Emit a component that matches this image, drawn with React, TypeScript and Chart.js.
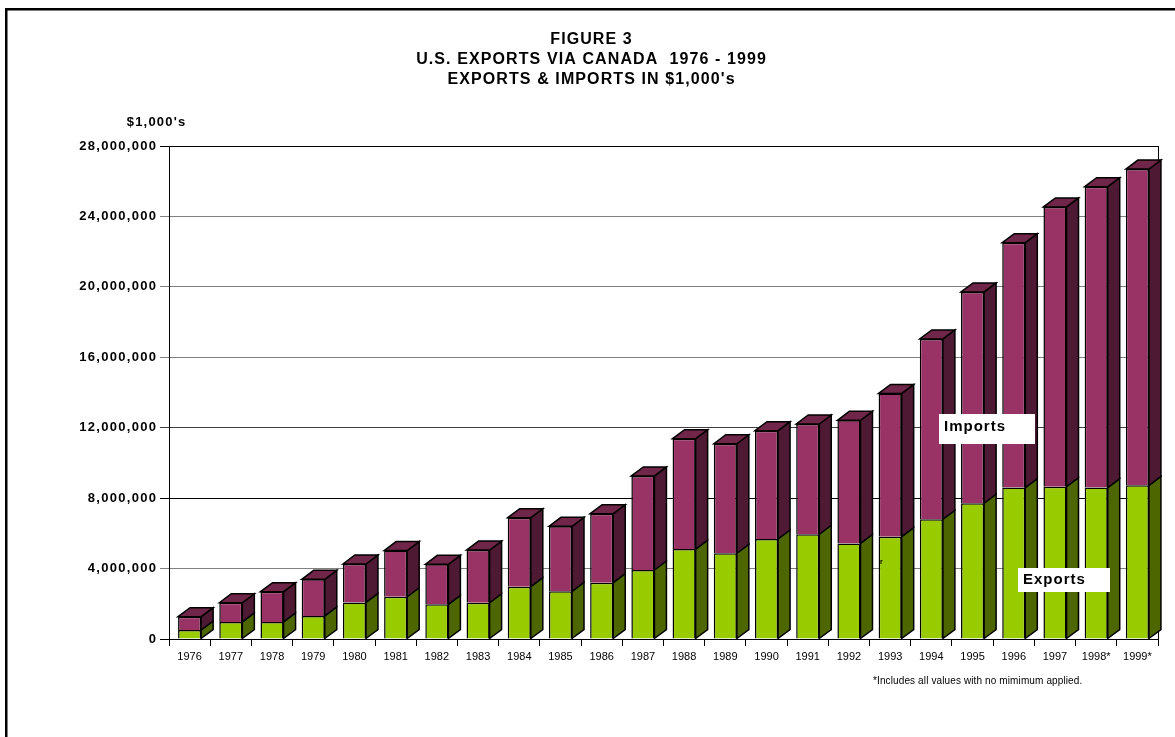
import React, { useEffect, useRef } from "react";
import { Chart, registerables } from "chart.js";

Chart.register(...registerables);

const years = [
  "1976", "1977", "1978", "1979", "1980", "1981", "1982", "1983", "1984", "1985", "1986", "1987",
  "1988", "1989", "1990", "1991", "1992", "1993", "1994", "1995", "1996", "1997", "1998*", "1999*",
];

// values in $1,000's
const exportsVals = [
  510000, 970000, 970000, 1310000, 2080000, 2400000, 1970000, 2060000, 2970000, 2710000, 3200000, 3920000,
  5110000, 4870000, 5680000, 5950000, 5430000, 5810000, 6800000, 7710000, 8600000, 8650000, 8600000, 8730000,
];

const importsVals = [
  760000, 1090000, 1720000, 2080000, 2180000, 2620000, 2270000, 2990000, 3920000, 3690000, 3920000, 5340000,
  6270000, 6220000, 6150000, 6260000, 6990000, 8140000, 10240000, 12000000, 13910000, 15890000, 17090000, 17960000,
];

const yTicks = [0, 4000000, 8000000, 12000000, 16000000, 20000000, 24000000, 28000000];

const titleLines = [
  "FIGURE 3",
  "U.S. EXPORTS VIA CANADA  1976 - 1999",
  "EXPORTS & IMPORTS IN $1,000's",
];

const FONT = '"Liberation Sans", Arial, Helvetica, sans-serif';

const sideColors = ["#4D6600", "#4D1933"];
const topColors = ["#739900", "#6F2649"];

const DX = 12;
const DY = 9;
const EDGE = 1.5;

function spaced(ctx: any, text: string, x: number, y: number, spacing: number, align: "left" | "right" | "center") {
  ctx.letterSpacing = `${spacing}px`;
  const w = ctx.measureText(text).width;
  ctx.textAlign = "left";
  let sx = x;
  if (align === "right") sx = x - w + spacing;
  else if (align === "center") sx = x - (w - spacing) / 2;
  ctx.fillText(text, sx, y);
  ctx.letterSpacing = "0px";
}

const threeD = {
  id: "threeD",
  beforeDatasetsDraw(chart: any) {
    const { ctx, chartArea } = chart;
    ctx.save();
    ctx.strokeStyle = "#000";
    ctx.lineWidth = 1;
    ctx.strokeRect(chartArea.left + 0.5, chartArea.top + 0.5, chartArea.right - chartArea.left, chartArea.bottom - chartArea.top);
    ctx.restore();
  },
  afterDatasetsDraw(chart: any) {
    const { ctx } = chart;
    ctx.save();
    ctx.lineWidth = EDGE;
    ctx.strokeStyle = "#000";
    ctx.lineJoin = "miter";
    const nDs = chart.data.datasets.length;
    for (let d = 0; d < nDs; d++) {
      const meta = chart.getDatasetMeta(d);
      meta.data.forEach((el: any) => {
        const { x, y, base, width } = el.getProps(["x", "y", "base", "width"], true);
        const xl = x - width / 2;
        const xr = x + width / 2;
        ctx.beginPath();
        ctx.moveTo(xr, base);
        ctx.lineTo(xr + DX, base - DY);
        ctx.lineTo(xr + DX, y - DY);
        ctx.lineTo(xr, y);
        ctx.closePath();
        ctx.fillStyle = sideColors[d];
        ctx.fill();
        ctx.stroke();
        if (d === nDs - 1) {
          ctx.beginPath();
          ctx.moveTo(xl, y);
          ctx.lineTo(xl + DX, y - DY);
          ctx.lineTo(xr + DX, y - DY);
          ctx.lineTo(xr, y);
          ctx.closePath();
          ctx.fillStyle = topColors[d];
          ctx.fill();
          ctx.stroke();
        }
      });
    }
    ctx.restore();
  },
  afterDraw(chart: any) {
    const { ctx } = chart;
    const yScale = chart.scales.y;
    ctx.save();
    ctx.fillStyle = "#000";
    ctx.fillRect(5, 8, 2.5, 737 - 8);
    ctx.fillRect(5, 8, 1175 - 5, 2.5);

    ctx.textBaseline = "middle";
    ctx.font = `bold 16px ${FONT}`;
    titleLines.forEach((t, i) => spaced(ctx, t, 591, 40 + i * 20, 1.1, "center"));

    ctx.font = `bold 13px ${FONT}`;
    spaced(ctx, "$1,000's", 156, 122, 1.2, "center");

    // y tick labels
    yTicks.forEach((v) => {
      const py = yScale.getPixelForValue(v);
      spaced(ctx, v.toLocaleString("en-US"), 156, py, 1.3, "right");
    });

    ctx.font = `10px ${FONT}`;
    spaced(ctx, "*Includes all values with no mimimum applied.", 873, 681, 0.12, "left");

    ctx.fillStyle = "#fff";
    ctx.fillRect(939, 414, 96, 30);
    ctx.fillRect(1018, 568, 92, 24);
    ctx.fillStyle = "#000";
    ctx.font = `bold 15px ${FONT}`;
    spaced(ctx, "Imports", 944, 427, 1, "left");
    spaced(ctx, "Exports", 1023, 580, 1, "left");

    ctx.font = `bold 7px ${FONT}`;
    ctx.textAlign = "left";
    ctx.fillText("r", 880, 562);
    ctx.restore();
  },
};

function gridColor(v: number) {
  if (v === 0 || v === 8000000 || v === 28000000) return "#000";
  if (v === 12000000) return "#404040";
  return "#808080";
}

export default function App() {
  const ref = useRef<HTMLCanvasElement | null>(null);
  useEffect(() => {
    if (!ref.current) return;
    const chart = new Chart(ref.current, {
      type: "bar",
      data: {
        labels: years,
        datasets: [
          {
            label: "Exports",
            data: exportsVals,
            backgroundColor: "#99CC00",
            borderColor: "#000",
            borderWidth: EDGE,
            barPercentage: 0.56,
            categoryPercentage: 1,
          },
          {
            label: "Imports",
            data: importsVals,
            backgroundColor: "#993366",
            borderColor: "#000",
            borderWidth: EDGE,
            barPercentage: 0.56,
            categoryPercentage: 1,
          },
        ],
      },
      options: {
        responsive: false,
        animation: false,
        layout: { padding: { top: 146, right: 17, left: 0, bottom: 0 } },
        plugins: {
          legend: { display: false },
          title: { display: false },
          tooltip: { enabled: false },
        },
        scales: {
          x: {
            stacked: true,
            afterFit: (s: any) => {
              s.height = 98;
            },
            grid: {
              offset: true,
              drawOnChartArea: false,
              drawTicks: true,
              tickLength: 7,
              color: "#000",
            },
            border: { color: "#000", width: 1 },
            ticks: {
              autoSkip: false,
              maxRotation: 0,
              minRotation: 0,
              padding: 4,
              color: "#000",
              font: { family: FONT, size: 11 },
            },
          },
          y: {
            stacked: true,
            min: 0,
            max: 28000000,
            afterFit: (s: any) => {
              s.width = 169;
            },
            afterBuildTicks: (s: any) => {
              s.ticks = yTicks.map((v) => ({ value: v }));
            },
            grid: {
              color: (c: any) => gridColor(c.tick ? c.tick.value : 0),
              tickLength: 9,
              lineWidth: 1,
            },
            border: { color: "#000", width: 1 },
            ticks: {
              display: false,
            },
          },
        },
      },
      plugins: [threeD],
    });
    return () => chart.destroy();
  }, []);
  return (
    <div style={{ position: "absolute", left: 0, top: 0, width: 1175, height: 737, background: "#fff" }}>
      <canvas ref={ref} width={1175} height={737} style={{ display: "block" }} />
    </div>
  );
}
